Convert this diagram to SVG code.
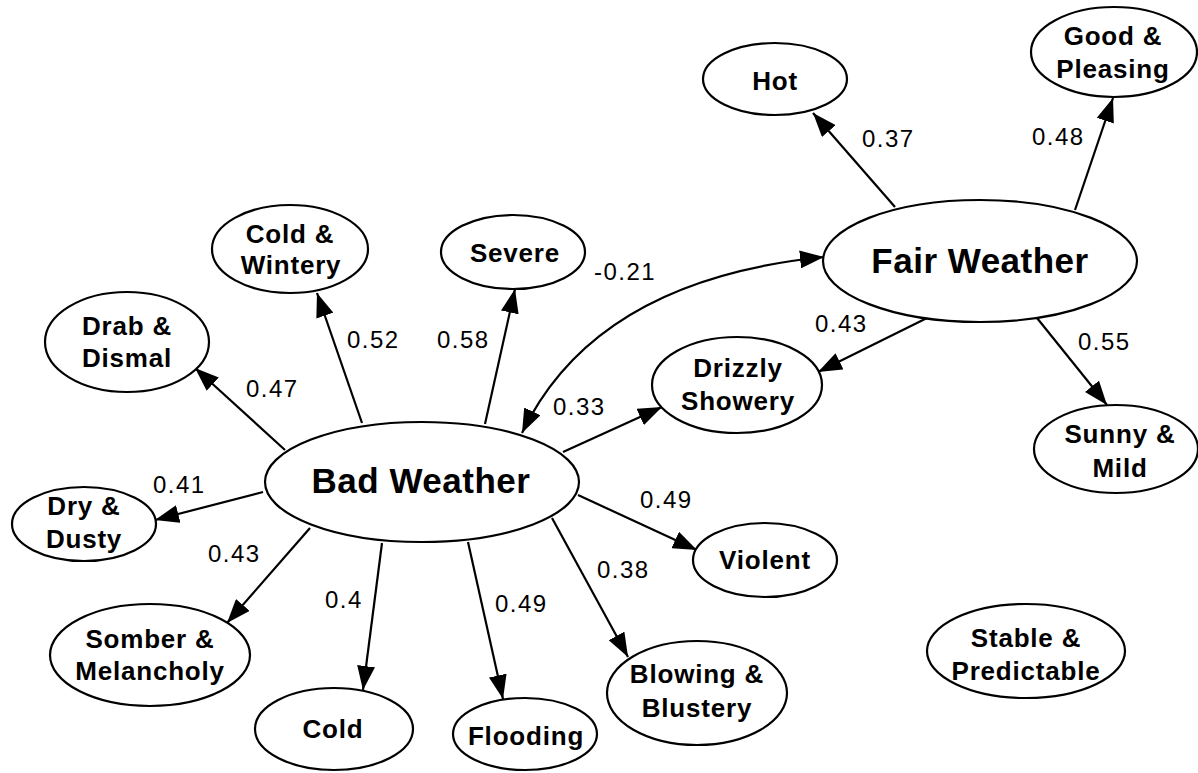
<svg xmlns="http://www.w3.org/2000/svg" width="1198" height="773" viewBox="0 0 1198 773">
<style>
.n ellipse{fill:#fff;stroke:#000;stroke-width:2.2}
.n text{font-family:"Liberation Sans",Arial,sans-serif;font-weight:bold;font-size:26px;letter-spacing:0.8px;text-anchor:middle;fill:#000}
.n text.big{font-size:35px;letter-spacing:0.5px}
.e line,.e path{stroke:#000;stroke-width:2.2;fill:none}
.lbl{font-family:"Liberation Sans",Arial,sans-serif;font-size:24px;letter-spacing:1.5px;fill:#000}
</style>
<defs>
<marker id="ah" markerUnits="userSpaceOnUse" markerWidth="24" markerHeight="18" refX="24" refY="9" orient="auto-start-reverse" viewBox="0 0 24 18">
<path d="M0,0 L24,9 L0,18 z" fill="#000"/>
</marker>
</defs>
<rect width="1198" height="773" fill="#fff"/>
<g class="e" id="connectors">
<line x1="895" y1="207" x2="813" y2="113" marker-end="url(#ah)"/>
<line x1="1075" y1="210" x2="1113" y2="98" marker-end="url(#ah)"/>
<line x1="927" y1="318" x2="818" y2="372" marker-end="url(#ah)"/>
<line x1="1037" y1="318" x2="1107" y2="405" marker-end="url(#ah)"/>
<line x1="362" y1="423" x2="317" y2="293" marker-end="url(#ah)"/>
<line x1="285" y1="450" x2="195" y2="368" marker-end="url(#ah)"/>
<line x1="485" y1="424" x2="515" y2="289" marker-end="url(#ah)"/>
<line x1="563" y1="452" x2="662" y2="407" marker-end="url(#ah)"/>
<line x1="263" y1="492" x2="155" y2="520" marker-end="url(#ah)"/>
<line x1="310" y1="528" x2="227" y2="623" marker-end="url(#ah)"/>
<line x1="382" y1="543" x2="363" y2="690" marker-end="url(#ah)"/>
<line x1="468" y1="542" x2="503" y2="699" marker-end="url(#ah)"/>
<line x1="552" y1="518" x2="628" y2="657" marker-end="url(#ah)"/>
<line x1="578" y1="495" x2="697" y2="550" marker-end="url(#ah)"/>
<path d="M522,433 Q595,280 824,257" marker-start="url(#ah)" marker-end="url(#ah)"/>
</g>
<g id="labels">
<text class="lbl" x="862" y="147">0.37</text>
<text class="lbl" x="1032" y="145">0.48</text>
<text class="lbl" x="594" y="280">-0.21</text>
<text class="lbl" x="815" y="332">0.43</text>
<text class="lbl" x="1078" y="350">0.55</text>
<text class="lbl" x="347" y="348">0.52</text>
<text class="lbl" x="437" y="348">0.58</text>
<text class="lbl" x="246" y="397">0.47</text>
<text class="lbl" x="553" y="415">0.33</text>
<text class="lbl" x="153" y="493">0.41</text>
<text class="lbl" x="640" y="508">0.49</text>
<text class="lbl" x="208" y="562">0.43</text>
<text class="lbl" x="597" y="578">0.38</text>
<text class="lbl" x="325" y="608">0.4</text>
<text class="lbl" x="495" y="612">0.49</text>
</g>
<g class="n" id="hot"><ellipse cx="775" cy="79" rx="72" ry="36"/><text x="775" y="90">Hot</text></g>
<g class="n" id="good"><ellipse cx="1114" cy="52" rx="83" ry="45"/><text x="1113" y="45">Good &amp;</text><text x="1113" y="78">Pleasing</text></g>
<g class="n" id="fair"><ellipse cx="980" cy="261" rx="157" ry="61"/><text class="big" x="980" y="273">Fair Weather</text></g>
<g class="n" id="coldwintery"><ellipse cx="290" cy="249" rx="78" ry="44"/><text x="290" y="243">Cold &amp;</text><text x="291" y="274">Wintery</text></g>
<g class="n" id="drab"><ellipse cx="127" cy="342" rx="82" ry="50"/><text x="127" y="335">Drab &amp;</text><text x="127" y="367">Dismal</text></g>
<g class="n" id="severe"><ellipse cx="513" cy="252" rx="72" ry="37"/><text x="515" y="262">Severe</text></g>
<g class="n" id="drizzly"><ellipse cx="737" cy="385" rx="85" ry="48"/><text x="738" y="377">Drizzly</text><text x="738" y="410">Showery</text></g>
<g class="n" id="bad"><ellipse cx="422" cy="482" rx="157" ry="60"/><text class="big" x="421" y="493">Bad Weather</text></g>
<g class="n" id="dry"><ellipse cx="84" cy="524" rx="72" ry="37"/><text x="84" y="515">Dry &amp;</text><text x="84" y="548">Dusty</text></g>
<g class="n" id="somber"><ellipse cx="150" cy="655" rx="100" ry="51"/><text x="150" y="648">Somber &amp;</text><text x="150" y="680">Melancholy</text></g>
<g class="n" id="cold"><ellipse cx="334" cy="729" rx="79" ry="41"/><text x="333" y="738">Cold</text></g>
<g class="n" id="flooding"><ellipse cx="525" cy="734" rx="72" ry="36"/><text x="526" y="745">Flooding</text></g>
<g class="n" id="blowing"><ellipse cx="697" cy="693" rx="90" ry="52"/><text x="697" y="683">Blowing &amp;</text><text x="697" y="717">Blustery</text></g>
<g class="n" id="violent"><ellipse cx="765" cy="560" rx="72" ry="37"/><text x="765" y="569">Violent</text></g>
<g class="n" id="sunny"><ellipse cx="1116" cy="449" rx="82" ry="44"/><text x="1120" y="443">Sunny &amp;</text><text x="1120" y="477">Mild</text></g>
<g class="n" id="stable"><ellipse cx="1026" cy="651" rx="99" ry="47"/><text x="1026" y="647">Stable &amp;</text><text x="1026" y="680">Predictable</text></g>
</svg>
